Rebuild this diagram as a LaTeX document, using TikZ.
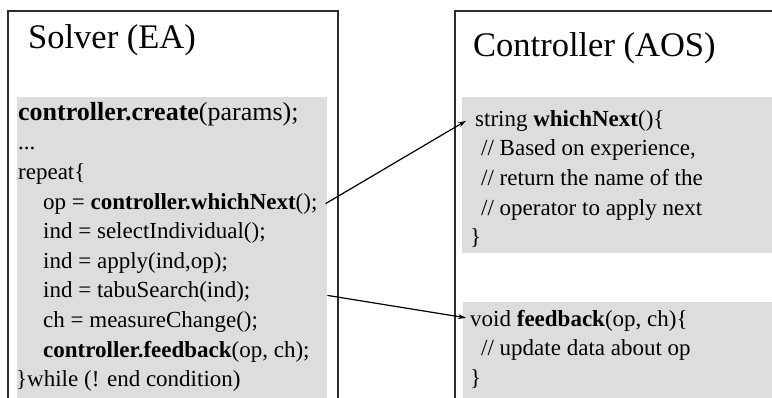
\documentclass[tikz,border=0pt]{standalone}
\usepackage{fontspec}
\setmainfont{Liberation Serif}
\usetikzlibrary{arrows.meta, positioning, calc}
\definecolor{codegray}{RGB}{221,221,221}
\definecolor{framegray}{RGB}{45,45,45}
\tikzset{
    boxframe/.style={draw=framegray, line width=1.6pt, fill=none, inner sep=0pt, anchor=north west},
    codebg/.style={fill=codegray, draw=none, inner sep=0pt, anchor=north west},
    paneltitle/.style={font=\fontsize{34.5}{40}\selectfont, inner sep=0pt, anchor=base west},
    codeline/.style={font=\fontsize{23}{29}\selectfont, inner sep=0pt, text height=20pt, text depth=9.2pt, anchor=north west},
    callline/.style={draw=black, line width=1.2pt, -{Stealth[length=8pt,width=5pt]}}
}

\begin{document}
\begin{tikzpicture}[x=1pt, y=-1pt]
    \useasboundingbox (0,0) rectangle (772,397);
    \clip (0,0) rectangle (772,397);

    % the two panels
    \node [boxframe, minimum width=330pt, minimum height=420pt] (solver) at (7,10) {};
    \node [boxframe, minimum width=360pt, minimum height=420pt] (controller) at (454,10) {};
    \node [paneltitle] (solvertitle) at (28,48) {Solver (EA)};
    \node [paneltitle] (controllertitle) at (473,56) {Controller (AOS)};

    % grey code areas
    \node [codebg, minimum width=310pt, minimum height=320pt] (solvercode) at (17,97) {};
    \node [codebg, minimum width=320pt, minimum height=156pt] (nextcode) at (462,97) {};
    \node [codebg, minimum width=320pt, minimum height=110pt] (feedcode) at (463,302) {};

    % solver loop
    \node [codeline, font=\fontsize{26}{29}\selectfont] (create) at (18,100) {\textbf{controller.create}(params);};
    \node [codeline, below=0pt of create.south west, anchor=north west] (dots) {...};
    \node [codeline, below=0pt of dots.south west, anchor=north west] (repeat) {repeat\{};
    \node [codeline, below=0pt of repeat.south west, anchor=north west, xshift=25pt] (whichcall) {op = \textbf{controller.whichNext}();};
    \node [codeline, below=0pt of whichcall.south west, anchor=north west] (select) {ind = selectIndividual();};
    \node [codeline, below=0pt of select.south west, anchor=north west] (apply) {ind = apply(ind,op);};
    \node [codeline, below=0pt of apply.south west, anchor=north west] (tabu) {ind = tabuSearch(ind);};
    \node [codeline, below=0pt of tabu.south west, anchor=north west] (measure) {ch = measureChange();};
    \node [codeline, below=0pt of measure.south west, anchor=north west] (feedcall) {\textbf{controller.feedback}(op, ch);};
    \node [codeline, below=0pt of feedcall.south west, anchor=north west, xshift=-27pt] (until) {\}while (! end condition)};

    % controller methods
    \node [codeline] (whichdef) at (475,106) {string \textbf{whichNext}()\{};
    \node [codeline, below=0pt of whichdef.south west, anchor=north west, xshift=6pt] (based) {// Based on experience,};
    \node [codeline, below=0pt of based.south west, anchor=north west] (ret) {// return the name of the};
    \node [codeline, below=0pt of ret.south west, anchor=north west] (oper) {// operator to apply next};
    \node [codeline, below=0pt of oper.south west, anchor=north west, xshift=-11pt] (nextend) {\}};

    \node [codeline] (feeddef) at (470,306) {void \textbf{feedback}(op, ch)\{};
    \node [codeline, below=0pt of feeddef.south west, anchor=north west, xshift=11pt] (update) {// update data about op};
    \node [codeline, below=0pt of update.south west, anchor=north west, xshift=-11pt] (feedend) {\}};

    \draw [callline] ([xshift=8pt]whichcall.east) -- ([xshift=-9pt]whichdef.west);
    \draw [callline] ([yshift=-3pt]tabu.east -| solvercode.east) -- ([xshift=-4pt, yshift=3pt]feeddef.west);
\end{tikzpicture}
\end{document}
